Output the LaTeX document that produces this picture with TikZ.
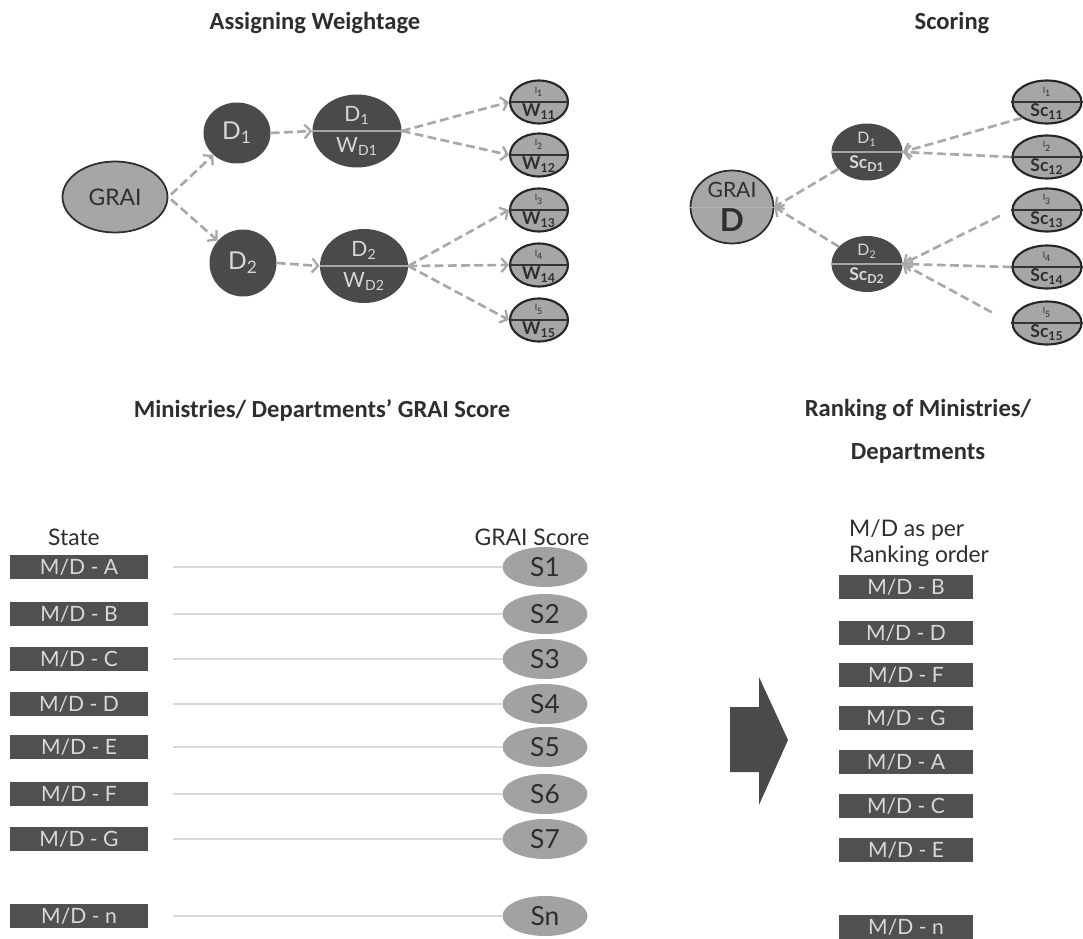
\documentclass[tikz,border=0pt]{standalone}
\usepackage{fontspec}
\setmainfont{Lato}
\newfontfamily\headfont{Carlito}
\usetikzlibrary{shapes.geometric, arrows.meta}

\definecolor{inkgray}{HTML}{2E2E2E}
\definecolor{darknode}{HTML}{4A4A4A}
\definecolor{lightnode}{HTML}{A6A6A6}
\definecolor{scoregray}{HTML}{A2A2A2}
\definecolor{edgegray}{HTML}{A8A8A8}
\definecolor{boxgray}{HTML}{505050}
\definecolor{paletext}{HTML}{D8D8D8}

\begin{document}
\begin{tikzpicture}[
    x=0.02cm, y=-0.02cm,
    title/.style={font=\headfont\bfseries\fontsize{14}{16}\selectfont, text=inkgray},
    grai/.style={ellipse, draw=inkgray, line width=1pt, fill=lightnode, text=inkgray, inner sep=0pt},
    dnode/.style={ellipse, fill=darknode, text=paletext, inner sep=0pt, align=center},
    leaf/.style={ellipse, draw=black!85, line width=1.2pt, fill=lightnode, inner sep=0pt},
    toptag/.style={font=\fontsize{5}{6}\selectfont, text=inkgray},
    bottag/.style={font=\bfseries\fontsize{10}{11}\selectfont, text=inkgray},
    leaftext/.style 2 args={label={[toptag, yshift=0.21cm]center:#1}, label={[bottag, yshift=-0.19cm]center:#2}},
    splitline/.style={draw=black!80, line width=0.8pt},
    palesplit/.style={draw=gray!70, line width=0.6pt},
    flow/.style={draw=edgegray, line width=1.5pt, dash pattern=on 5pt off 2.5pt, -{Straight Barb[length=3.5pt,width=8pt,line width=1.3pt]}},
    mdbox/.style={fill=boxgray, text=paletext, minimum height=0.48cm, inner sep=0pt, font=\fontsize{12}{14}\selectfont},
    scorenode/.style={ellipse, fill=scoregray, text=inkgray, minimum width=1.7cm, minimum height=0.8cm, inner sep=0pt, font=\fontsize{15}{17}\selectfont},
    rowline/.style={draw=gray!30, line width=0.7pt, shorten <=0.5cm},
    font=\fontsize{12}{14}\selectfont
  ]
  \useasboundingbox[fill=white] (0,0) rectangle (1083,939);

  % Titles
  \node[title] (t1) at (315,23) {Assigning Weightage};
  \node[title] (t2) at (952,23) {Scoring};
  \node[title] (t3) at (322,410) {Ministries/ Departments’ GRAI Score};
  \node[title] (t4) at (918,410) {Ranking of Ministries/};
  \node[title] (t5) at (918,453) {Departments};

  % Assigning weightage
  \node[grai, minimum width=2.1cm, minimum height=1.42cm, font=\fontsize{13}{15}\selectfont] (grai) at (115,197) {GRAI};
  \node[dnode, minimum width=1.34cm, minimum height=1.22cm, font=\fontsize{14}{16}\selectfont] (d1) at (237,133) {D\textsubscript{1}};
  \node[dnode, minimum width=1.34cm, minimum height=1.34cm, font=\fontsize{14}{16}\selectfont] (d2) at (243,263) {D\textsubscript{2}};
  \node[dnode, minimum width=1.78cm, minimum height=1.46cm, font=\fontsize{12}{13}\selectfont] (dw1) at (357,131) {D\textsubscript{1}\\[5pt]W\textsubscript{D1}};
  \node[dnode, minimum width=1.76cm, minimum height=1.48cm, font=\fontsize{12}{13}\selectfont] (dw2) at (364,266) {D\textsubscript{2}\\[5pt]W\textsubscript{D2}};
  \draw[palesplit] (dw1.west) -- (dw1.east);
  \draw[palesplit] (dw2.west) -- (dw2.east);

  \foreach \i/\yy in {1/102, 2/155, 3/210, 4/265, 5/320} {
    \node[leaf, minimum width=1.16cm, minimum height=0.86cm,
          leaftext={I\textsubscript{\i}}{W\textsubscript{1\i}}] (w\i) at (539,\yy) {};
    \draw[splitline] (w\i.west) -- (w\i.east);
  }

  \draw[flow, shorten <=2pt] (grai.east) -- (d1);
  \draw[flow, shorten <=2pt] (grai.east) -- (d2);
  \draw[flow] (d1.east) -- (dw1.west);
  \draw[flow] (d2.east) -- (dw2.west);
  \draw[flow] (dw1.east) -- (w1.west);
  \draw[flow] (dw1.east) -- (w2.west);
  \draw[flow] (dw2.east) -- (w3.west);
  \draw[flow] (dw2.east) -- (w4.west);
  \draw[flow] (dw2.east) -- (w5.west);

  % Scoring
  \node[grai, minimum width=1.66cm, minimum height=1.46cm, align=center] (graid) at (732,207)
    {\fontsize{12}{13}\selectfont GRAI\\[5pt]\bfseries\fontsize{18}{19}\selectfont D};
  \draw[draw=gray!60, line width=0.4pt] (graid.west) -- (graid.east);
  \node[dnode, minimum width=1.42cm, minimum height=1.14cm, font=\fontsize{9}{10}\selectfont] (sd1) at (867,152)
    {D\textsubscript{1}\\[4pt]{\bfseries\fontsize{10}{11}\selectfont Sc\textsubscript{D1}}};
  \node[dnode, minimum width=1.42cm, minimum height=1.12cm, font=\fontsize{9}{10}\selectfont] (sd2) at (867,264)
    {D\textsubscript{2}\\[4pt]{\bfseries\fontsize{10}{11}\selectfont Sc\textsubscript{D2}}};
  \draw[palesplit] (sd1.west) -- (sd1.east);
  \draw[palesplit] (sd2.west) -- (sd2.east);

  \foreach \i/\yy in {1/102, 2/157, 3/210, 4/267, 5/323} {
    \node[leaf, minimum width=1.38cm, minimum height=0.86cm,
          leaftext={I\textsubscript{\i}}{Sc\textsubscript{1\i}}] (s\i) at (1047,\yy) {};
    \draw[splitline] (s\i.west) -- (s\i.east);
  }

  \draw[flow] (s1.south west) -- (sd1.east);
  \draw[flow] (s2.west) -- (sd1.east);
  \draw[flow, shorten <=0.26cm] (s3.west) -- (sd2.east);
  \draw[flow] (s4.west) -- (sd2.east);
  \draw[flow, shorten <=0.45cm] (s5.west) -- (sd2.east);
  \draw[flow] (sd1) -- (graid.east);
  \draw[flow] (sd2) -- (graid.east);

  % GRAI score per M/D
  \node[anchor=west, text=inkgray, font=\fontsize{13}{15}\selectfont] (state) at (42,537) {State};
  \node[text=inkgray, font=\fontsize{13}{15}\selectfont] (gscore) at (532,537) {GRAI Score};
  \foreach \lab/\sc/\yy in {A/S1/567, B/S2/614, C/S3/659, D/S4/704, E/S5/747, F/S6/794, G/S7/839, n/Sn/916} {
    \node[mdbox, minimum width=2.76cm] (md\lab) at (79,\yy) {M/D - \lab};
    \node[scorenode] (sc\lab) at (545,\yy) {\sc};
    \draw[rowline] (md\lab) -- (sc\lab);
  }

  % Ranking
  \node[anchor=west, text=inkgray, font=\fontsize{13}{15}\selectfont, align=left] (rank) at (843,543)
    {M/D as per\\Ranking order};
  \foreach \lab/\yy in {B/587, D/633, F/675, G/718, A/762, C/806, E/850, n/927} {
    \node[mdbox, minimum width=2.7cm] (rk\lab) at (906,\yy) {M/D - \lab};
  }
  \fill[darknode] (730,707) -- (759,707) -- (759,677) -- (788,740) -- (759,805)
    -- (759,772) -- (730,772) -- cycle;
\end{tikzpicture}
\end{document}
